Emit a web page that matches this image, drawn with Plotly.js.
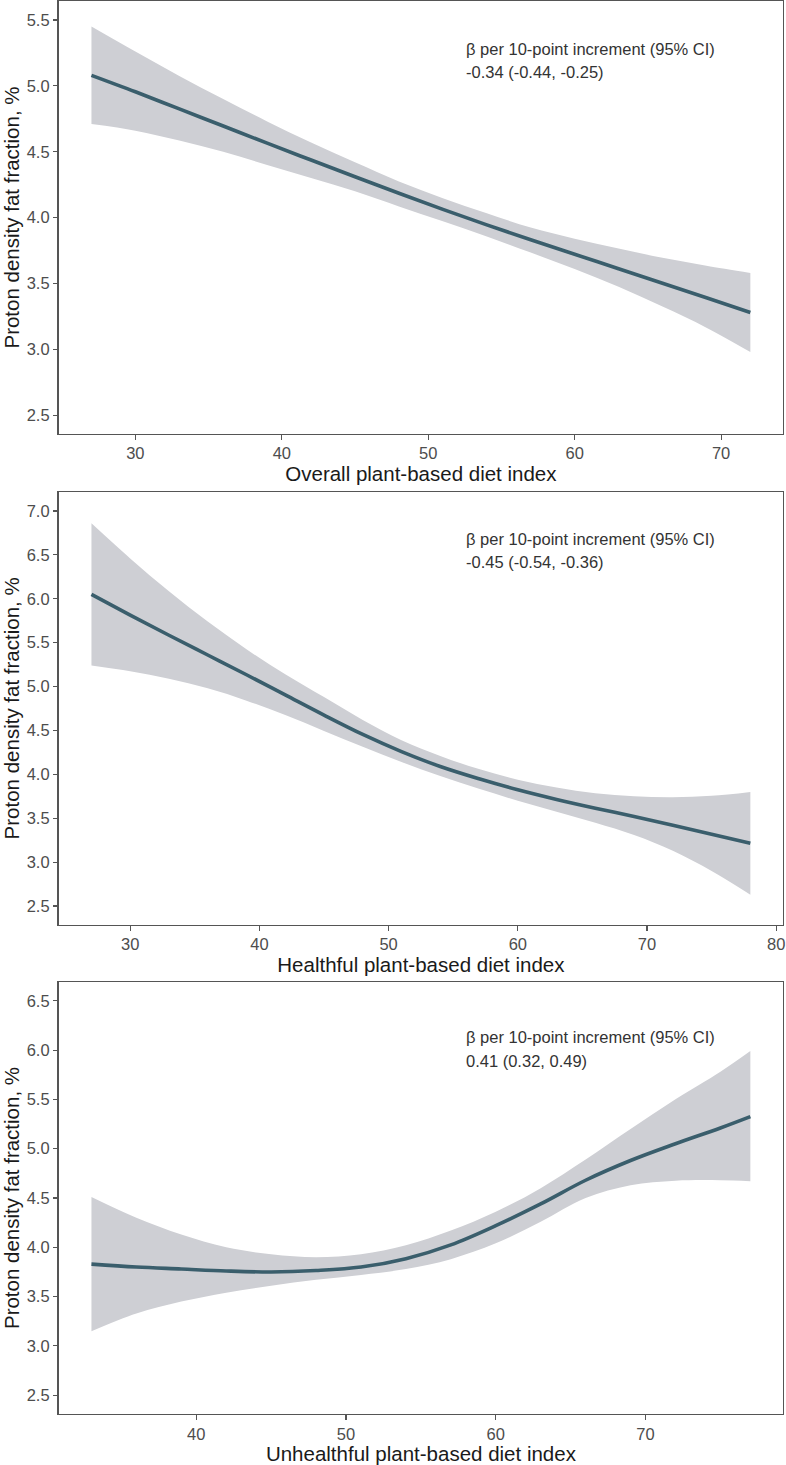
<!DOCTYPE html>
<html>
<head>
<meta charset="utf-8">
<script src="https://cdn.plot.ly/plotly-3.0.1.min.js"></script>
<style>html,body{margin:0;padding:0;background:#fff;}#chart{width:786px;height:1465px;}</style>
</head>
<body>
<div id="chart"></div>
<script>
// ---- Panel 1: Overall plant-based diet index ----
const x1 = [27, 30, 33, 36, 39, 42, 45, 48, 51, 54, 57, 60, 63, 66, 69, 72];
const fit1 = [5.08, 4.955, 4.825, 4.695, 4.565, 4.437, 4.31, 4.185, 4.063, 3.945, 3.832, 3.722, 3.612, 3.502, 3.392, 3.28];
const upper1 = [5.45, 5.26, 5.075, 4.90, 4.73, 4.57, 4.42, 4.275, 4.148, 4.033, 3.925, 3.84, 3.765, 3.695, 3.635, 3.58];
const lower1 = [4.71, 4.66, 4.585, 4.50, 4.40, 4.30, 4.20, 4.085, 3.972, 3.857, 3.735, 3.61, 3.475, 3.325, 3.165, 2.98];

// ---- Panel 2: Healthful plant-based diet index ----
const x2 = [27, 30, 33, 36, 39, 42, 45, 48, 51, 54, 57, 60, 63, 66, 69, 72, 75, 78];
const fit2 = [6.05, 5.815, 5.585, 5.36, 5.135, 4.905, 4.675, 4.455, 4.26, 4.09, 3.95, 3.825, 3.715, 3.615, 3.52, 3.42, 3.318, 3.215];
const upper2 = [6.86, 6.46, 6.085, 5.74, 5.425, 5.14, 4.88, 4.62, 4.39, 4.21, 4.06, 3.94, 3.85, 3.785, 3.75, 3.74, 3.755, 3.80];
const lower2 = [5.24, 5.175, 5.09, 4.98, 4.84, 4.675, 4.495, 4.315, 4.14, 3.98, 3.835, 3.70, 3.575, 3.45, 3.31, 3.13, 2.90, 2.63];

// ---- Panel 3: Unhealthful plant-based diet index ----
const x3 = [33, 36, 39, 42, 45, 48, 51, 54, 57, 60, 63, 66, 69, 72, 75, 77];
const fit3 = [3.83, 3.80, 3.78, 3.76, 3.75, 3.765, 3.80, 3.885, 4.025, 4.22, 4.44, 4.68, 4.88, 5.05, 5.21, 5.325];
const upper3 = [4.51, 4.30, 4.13, 4.00, 3.93, 3.90, 3.93, 4.02, 4.17, 4.36, 4.60, 4.89, 5.20, 5.50, 5.78, 5.99];
const lower3 = [3.15, 3.33, 3.45, 3.54, 3.61, 3.67, 3.72, 3.78, 3.88, 4.04, 4.26, 4.50, 4.63, 4.675, 4.68, 4.67];

// ---- Text ----
const xTitles = ["Overall plant-based diet index", "Healthful plant-based diet index", "Unhealthful plant-based diet index"];
const yTitle = "Proton density fat fraction, %";
const betaHeader = "β per 10-point increment (95% CI)";
const betaValues = ["-0.34 (-0.44, -0.25)", "-0.45 (-0.54, -0.36)", "0.41 (0.32, 0.49)"];

// ---- Tick values ----
const xTicks1 = [30, 40, 50, 60, 70];
const xTicks2 = [30, 40, 50, 60, 70, 80];
const xTicks3 = [40, 50, 60, 70];
const yTicks1 = [2.5, 3.0, 3.5, 4.0, 4.5, 5.0, 5.5];
const yTicks2 = [2.5, 3.0, 3.5, 4.0, 4.5, 5.0, 5.5, 6.0, 6.5, 7.0];
const yTicks3 = [2.5, 3.0, 3.5, 4.0, 4.5, 5.0, 5.5, 6.0, 6.5];

const LINE = '#3a5e6c';
const BAND = '#cecfd4';
const FONT = 'Liberation Sans, Arial, Helvetica, sans-serif';
const W = 786, H = 1465;

const panels = [
  {x: x1, fit: fit1, up: upper1, lo: lower1, xa: 'x', ya: 'y'},
  {x: x2, fit: fit2, up: upper2, lo: lower2, xa: 'x2', ya: 'y2'},
  {x: x3, fit: fit3, up: upper3, lo: lower3, xa: 'x3', ya: 'y3'}
];

const traces = [];
panels.forEach(p => {
  traces.push({x: p.x, y: p.lo, xaxis: p.xa, yaxis: p.ya, mode: 'lines',
    line: {width: 0, color: BAND, shape: 'spline', smoothing: 1}, hoverinfo: 'skip', showlegend: false});
  traces.push({x: p.x, y: p.up, xaxis: p.xa, yaxis: p.ya, mode: 'lines', fill: 'tonexty', fillcolor: BAND,
    line: {width: 0, color: BAND, shape: 'spline', smoothing: 1}, hoverinfo: 'skip', showlegend: false});
  traces.push({x: p.x, y: p.fit, xaxis: p.xa, yaxis: p.ya, mode: 'lines',
    line: {width: 3.6, color: LINE, shape: 'spline', smoothing: 1}, showlegend: false});
});

const xl = 58.5 / W, xr = 783.3 / W;
const pd = (py) => 1 - py / H;

function xAxis(range, ticks, title, anchor) {
  return {
    domain: [xl, xr], range: range, anchor: anchor,
    tickvals: ticks, ticktext: ticks.map(String),
    showgrid: false, zeroline: false,
    showline: true, mirror: true, linecolor: '#555555', linewidth: 1.1,
    ticks: 'outside', ticklen: 4.5, tickwidth: 1.1, tickcolor: '#555555',
    tickfont: {family: FONT, size: 16.5, color: '#4d4d4d'},
    ticklabeloverflow: 'allow',
    title: {text: title, font: {family: FONT, size: 20.5, color: '#1a1a1a'}, standoff: 2},
    automargin: false, fixedrange: true
  };
}
function yAxis(domain, range, ticks, anchor) {
  return {
    domain: domain, range: range, anchor: anchor,
    tickvals: ticks, ticktext: ticks.map(v => v.toFixed(1)),
    showgrid: false, zeroline: false,
    showline: true, mirror: true, linecolor: '#555555', linewidth: 1.1,
    ticks: 'outside', ticklen: 4.5, tickwidth: 1.1, tickcolor: '#555555',
    tickfont: {family: FONT, size: 16.5, color: '#4d4d4d'},
    ticklabeloverflow: 'allow',
    title: {text: yTitle, font: {family: FONT, size: 20.5, color: '#1a1a1a'}, standoff: 5},
    automargin: false, fixedrange: true
  };
}

const annY = [[49, 71.7], [539, 561.7], [1036.7, 1060.5]];
const annotations = [];
['x', 'x2', 'x3'].forEach((xa, i) => {
  annotations.push({xref: xa + ' domain', yref: 'paper', x: 0.5599, y: pd(annY[i][0]), xanchor: 'left', yanchor: 'middle',
    text: betaHeader, showarrow: false, font: {family: FONT, size: 16.5, color: '#333333'}});
  annotations.push({xref: xa + ' domain', yref: 'paper', x: 0.5599, y: pd(annY[i][1]), xanchor: 'left', yanchor: 'middle',
    text: betaValues[i], showarrow: false, font: {family: FONT, size: 16.5, color: '#333333'}});
});

const layout = {
  width: W, height: H,
  margin: {l: 0, r: 0, t: 0, b: 0, pad: 0},
  paper_bgcolor: '#ffffff', plot_bgcolor: '#ffffff',
  showlegend: false,
  xaxis: xAxis([24.75, 74.25], xTicks1, xTitles[0], 'y'),
  yaxis: yAxis([pd(434), pd(1)], [2.358, 5.644], yTicks1, 'x'),
  xaxis2: xAxis([24.45, 80.55], xTicks2, xTitles[1], 'y2'),
  yaxis2: yAxis([pd(925), pd(491.7)], [2.284, 7.22], yTicks2, 'x2'),
  xaxis3: xAxis([30.8, 79.2], xTicks3, xTitles[2], 'y3'),
  yaxis3: yAxis([pd(1414.3), pd(981.7)], [2.307, 6.693], yTicks3, 'x3'),
  annotations: annotations
};

Plotly.newPlot('chart', traces, layout, {displayModeBar: false, staticPlot: true});
</script>
</body>
</html>
